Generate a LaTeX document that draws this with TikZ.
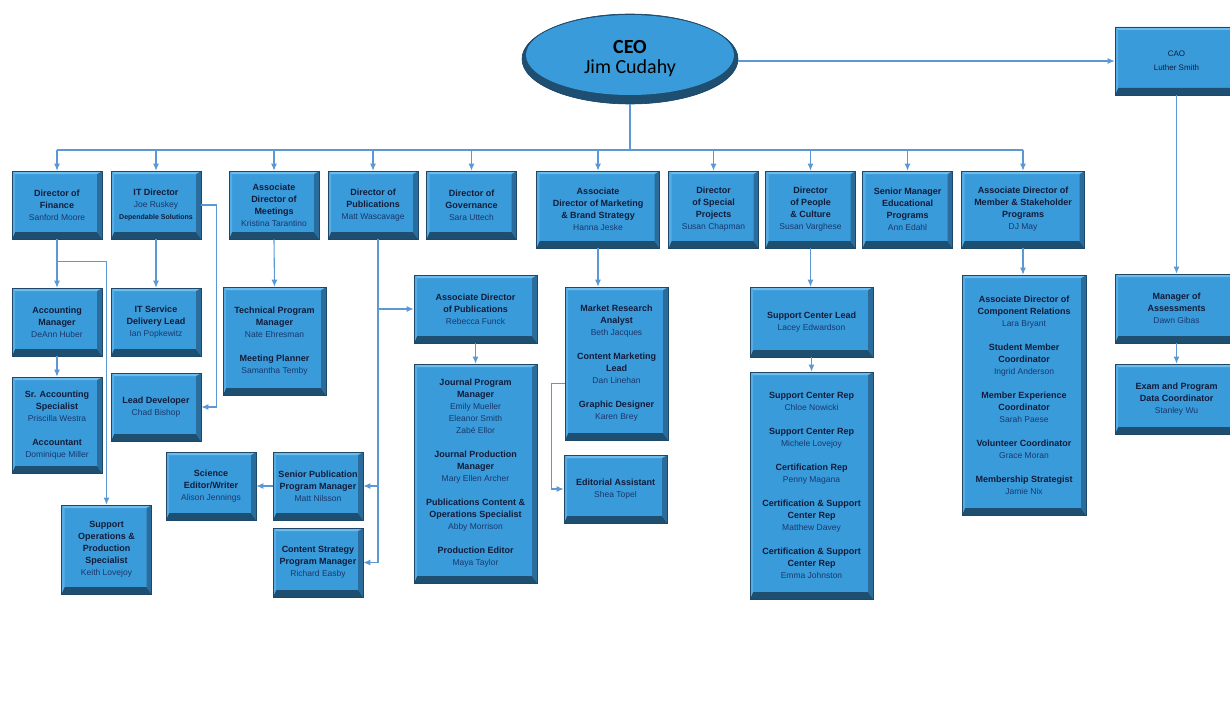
\documentclass[tikz,border=0pt]{standalone}
\usepackage{fontspec}
\setmainfont{Liberation Sans}
\newfontfamily\ceofont{Carlito}
\usetikzlibrary{shapes.geometric,arrows.meta}

\definecolor{boxblue}{RGB}{58,155,218}
\definecolor{edgeblue}{RGB}{30,72,105}
\definecolor{bevbot}{RGB}{30,78,112}
\definecolor{bevright}{RGB}{42,108,155}
\definecolor{bevtop}{RGB}{110,188,236}
\definecolor{bevleft}{RGB}{88,172,228}
\definecolor{titleblue}{RGB}{18,28,58}
\definecolor{nameblue}{RGB}{24,56,110}
\definecolor{linkblue}{RGB}{92,152,212}

\newcommand{\who}[1]{{\mdseries\fontsize{8.5}{12}\selectfont\color{nameblue}#1}}

\begin{document}
\begin{tikzpicture}[x=1pt,y=-1pt,>={Latex[length=7pt,width=6pt]}]
    \tikzstyle{post}=[draw=edgeblue,line width=0.6pt,fill=boxblue,inner sep=0pt,
      align=center,text=titleblue,font=\bfseries\fontsize{9}{12}\selectfont,
      minimum width=90pt,minimum height=68pt,
      path picture={
        \path (path picture bounding box.south west) coordinate (sw)
              (path picture bounding box.south east) coordinate (se)
              (path picture bounding box.north east) coordinate (ne)
              (path picture bounding box.north west) coordinate (nw);
        \fill[bevbot] (sw) -- (se) -- ([shift={(-5pt,7pt)}]se) -- ([shift={(3pt,7pt)}]sw) -- cycle;
        \fill[bevright] (se) -- (ne) -- ([shift={(-5pt,-3pt)}]ne) -- ([shift={(-5pt,7pt)}]se) -- cycle;
        \fill[bevtop] (nw) -- (ne) -- ([shift={(-5pt,-3pt)}]ne) -- ([shift={(3pt,-3pt)}]nw) -- cycle;
        \fill[bevleft] (nw) -- (sw) -- ([shift={(3pt,7pt)}]sw) -- ([shift={(3pt,-3pt)}]nw) -- cycle;
      }]
    \tikzstyle{wide}=[minimum width=123pt]
    \tikzstyle{chief}=[ellipse,draw=edgeblue,line width=0.6pt,fill=boxblue,inner sep=0pt,
      minimum width=216pt,minimum height=90pt,align=center,text=black,
      font=\ceofont\fontsize{20}{20}\selectfont,
      path picture={
        \fill[bevbot] (path picture bounding box.south west) rectangle (path picture bounding box.north east);
        \fill[boxblue] ([yshift=4pt]path picture bounding box.center) ellipse [x radius=104pt,y radius=40pt];
      }]
    \tikzstyle{link}=[draw=linkblue,line width=1.1pt]

    \clip (0,0) rectangle (1230,706);

    % top
    \node[chief] (ceo) at (630,59) {\textbf{CEO}\\Jim Cudahy};
    \node[post,wide,font=\fontsize{8}{14}\selectfont] (cao) at (1176.5,61) {CAO\\Luther Smith};

    % directors
    \node[post] (fin) at (57,205) {Director of\\Finance\\\who{Sanford Moore}};
    \node[post] (itd) at (156,205) {IT Director\\\who{Joe Ruskey}\\{\fontsize{7}{12}\selectfont Dependable Solutions}};
    \node[post] (mtg) at (274,205) {Associate\\Director of\\Meetings\\\who{Kristina Tarantino}};
    \node[post] (pub) at (373,205) {Director of\\Publications\\\who{Matt Wascavage}};
    \node[post] (gov) at (471.5,205) {Director of\\Governance\\\who{Sara Uttech}};
    \node[post,wide,minimum height=77pt] (mkt) at (598,209.5) {Associate\\Director of Marketing\\\& Brand Strategy\\\who{Hanna Jeske}};
    \node[post,minimum height=77pt] (spp) at (713.5,209.5) {Director\\of Special\\Projects\\\who{Susan Chapman}};
    \node[post,minimum height=77pt] (ppl) at (810.5,209.5) {Director\\of People\\\& Culture\\\who{Susan Varghese}};
    \node[post,minimum height=77pt] (edu) at (907.5,209.5) {Senior Manager\\Educational\\Programs\\\who{Ann Edahl}};
    \node[post,wide,minimum height=77pt] (msp) at (1023,209.5) {Associate Director of\\Member \& Stakeholder\\Programs\\\who{DJ May}};

    % staff
    \node[post] (accm) at (57,322) {Accounting\\Manager\\\who{DeAnn Huber}};
    \node[post,minimum height=96pt] (sras) at (57,425) {Sr. Accounting\\Specialist\\\who{Priscilla Westra}\\[12pt]Accountant\\\who{Dominique Miller}};
    \node[post,minimum height=89pt] (supo) at (106.5,549.5) {Support\\Operations \&\\Production\\Specialist\\\who{Keith Lovejoy}};
    \node[post] (itsd) at (156,322) {IT Service\\Delivery Lead\\\who{Ian Popkewitz}};
    \node[post] (lead) at (156,407) {Lead Developer\\\who{Chad Bishop}};
    \node[post,minimum width=103pt,minimum height=108pt] (tpm) at (274.5,341) {Technical Program\\Manager\\\who{Nate Ehresman}\\[12pt]Meeting Planner\\\who{Samantha Temby}};
    \node[post,wide] (adp) at (475.5,309) {Associate Director\\of Publications\\\who{Rebecca Funck}};
    \node[post,wide,minimum height=219pt] (jpm) at (475.5,473.5) {Journal Program\\Manager\\\who{Emily Mueller}\\\who{Eleanor Smith}\\\who{Zabé Ellor}\\[12pt]Journal Production\\Manager\\\who{Mary Ellen Archer}\\[12pt]Publications Content \&\\Operations Specialist\\\who{Abby Morrison}\\[12pt]Production Editor\\\who{Maya Taylor}};
    \node[post] (sci) at (211,486) {Science\\Editor/Writer\\\who{Alison Jennings}};
    \node[post] (spm) at (318,486) {Senior Publication\\Program Manager\\\who{Matt Nilsson}};
    \node[post,minimum height=69pt] (csp) at (318,562.5) {Content Strategy\\Program Manager\\\who{Richard Easby}};
    \node[post,minimum width=103pt,minimum height=153pt] (mra) at (616.5,363.5) {Market Research\\Analyst\\\who{Beth Jacques}\\[12pt]Content Marketing\\Lead\\\who{Dan Linehan}\\[12pt]Graphic Designer\\\who{Karen Brey}};
    \node[post,minimum width=103pt] (eda) at (615.5,489) {Editorial Assistant\\\who{Shea Topel}};
    \node[post,wide,minimum height=70pt] (scl) at (811.5,322) {Support Center Lead\\\who{Lacey Edwardson}};
    \node[post,wide,minimum height=227pt] (scr) at (811.5,485.5) {Support Center Rep\\\who{Chloe Nowicki}\\[12pt]Support Center Rep\\\who{Michele Lovejoy}\\[12pt]Certification Rep\\\who{Penny Magana}\\[12pt]Certification \& Support\\Center Rep\\\who{Matthew Davey}\\[12pt]Certification \& Support\\Center Rep\\\who{Emma Johnston}};
    \node[post,minimum width=124pt,minimum height=240pt] (cmp) at (1024,395) {Associate Director of\\Component Relations\\\who{Lara Bryant}\\[12pt]Student Member\\Coordinator\\\who{Ingrid Anderson}\\[12pt]Member Experience\\Coordinator\\\who{Sarah Paese}\\[12pt]Volunteer Coordinator\\\who{Grace Moran}\\[12pt]Membership Strategist\\\who{Jamie Nix}};
    \node[post,wide,minimum height=69pt] (moa) at (1176.5,308.5) {Manager of\\Assessments\\\who{Dawn Gibas}};
    \node[post,wide,minimum height=70pt] (exm) at (1176.5,399) {Exam and Program\\Data Coordinator\\\who{Stanley Wu}};

    % bus
    \coordinate (bus) at (0,150);
    \draw[link] (ceo.south) -- (ceo.south |- bus);
    \draw[link] (fin.north |- bus) -- (msp.north |- bus);
    \foreach \d in {fin,itd,mtg,pub,gov,mkt,spp,ppl,edu,msp}
      \draw[link,->] (\d.north |- bus) -- (\d.north);
    \draw[link,->] (ceo.east |- cao.west) -- (cao.west);

    % finance and IT
    \path (fin.south) -- (accm.north) coordinate[pos=0.45] (fbr);
    \draw[link,->] (fin.south) -- (accm.north);
    \draw[link,->] (fbr) -| (supo.north);
    \draw[link,->] (accm.south) -- (sras.north);
    \draw[link,->] (itd.south) -- (itsd.north);
    \draw[link,->] (itd.east) -- ++(15,0) |- (lead.east);
    \draw[link,->] (mtg.south) -- (tpm.north);

    % publications
    \coordinate (pubx) at ([xshift=5pt]pub.south);
    \draw[link] (pubx) -- (pubx |- csp.east);
    \draw[link,->] (pubx |- adp.west) -- (adp.west);
    \draw[link,->] (pubx |- spm.east) -- (spm.east);
    \draw[link,->] (pubx |- csp.east) -- (csp.east);
    \draw[link,->] (spm.west) -- (sci.east);
    \draw[link,->] (adp.south) -- (jpm.north);

    % marketing, people, members
    \draw[link,->] (mkt.south) -- (mkt.south |- mra.north);
    \draw[link,->] ([yshift=-20pt]mra.west) -- ++(-13,0) |- (eda.west);
    \draw[link,->] (ppl.south) -- (ppl.south |- scl.north);
    \draw[link,->] (scl.south) -- (scr.north);
    \draw[link,->] (msp.south) -- (msp.south |- cmp.north);

    % CAO
    \draw[link,->] (cao.south) -- (moa.north);
    \draw[link,->] (moa.south) -- (exm.north);
\end{tikzpicture}
\end{document}
